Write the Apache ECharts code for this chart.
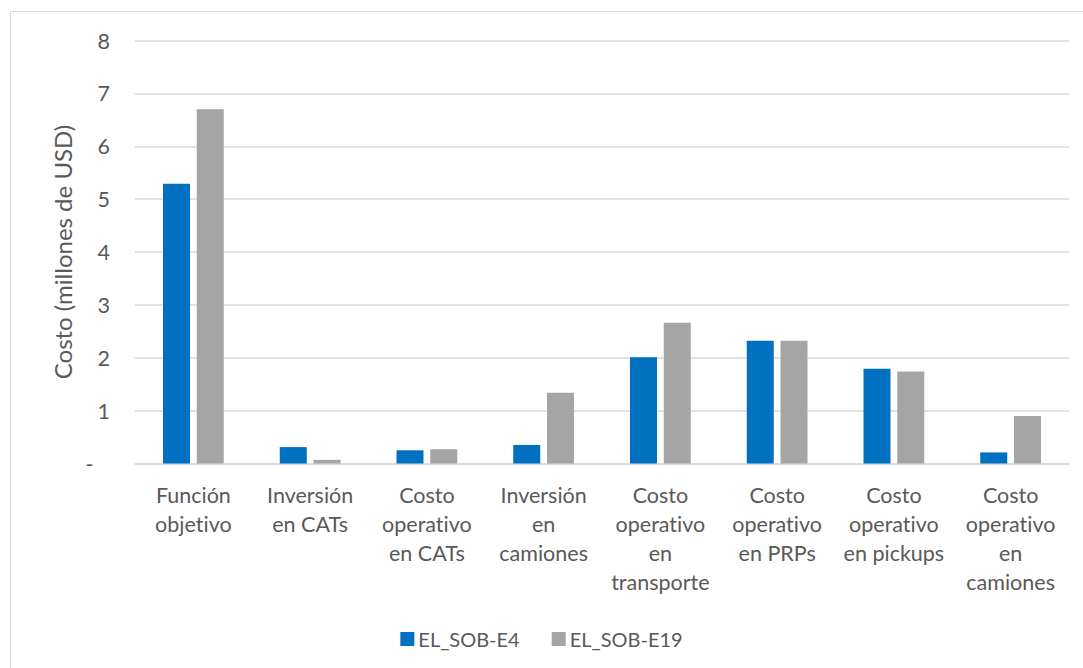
<!DOCTYPE html>
<html>
<head>
<meta charset="utf-8">
<script src="https://cdn.jsdelivr.net/npm/echarts@6/dist/echarts.min.js"></script>
<style>
html,body{margin:0;padding:0;background:#fff;}
#chart{width:1083px;height:668px;font-variant-ligatures:none;font-feature-settings:"liga" 0, "clig" 0;}
#chart text{font-variant-ligatures:none;font-feature-settings:"liga" 0, "clig" 0;}
</style>
</head>
<body>
<div id="chart"></div>
<script>
const categories = [
  "Función\nobjetivo",
  "Inversión\nen CATs",
  "Costo\noperativo\nen CATs",
  "Inversión\nen\ncamiones",
  "Costo\noperativo\nen\ntransporte",
  "Costo\noperativo\nen PRPs",
  "Costo\noperativo\nen pickups",
  "Costo\noperativo\nen\ncamiones"
];
const seriesNames = ["EL_SOB-E4", "EL_SOB-E19"];
const valuesE4 = [5.29, 0.31, 0.25, 0.35, 2.01, 2.32, 1.79, 0.21];
const valuesE19 = [6.70, 0.07, 0.27, 1.34, 2.66, 2.32, 1.74, 0.90];
const yTicks = { min: 0, max: 8, interval: 1 };
const yTitle = "Costo (millones de USD)";

const FONT = "Lato";
const TXT = "#595959";
const chart = echarts.init(document.getElementById('chart'), null, {renderer: 'svg'});
chart.setOption({
  animation: false,
  backgroundColor: '#ffffff',
  textStyle: { fontFamily: FONT },
  graphic: [{
    type: 'rect', silent: true,
    shape: { x: 10.5, y: 11.5, width: 1200, height: 800 },
    style: { fill: 'none', stroke: '#d9d9d9', lineWidth: 1 }
  }],
  grid: { left: 135, right: 14, top: 40.5, bottom: 204.5, containLabel: false },
  legend: {
    data: seriesNames,
    bottom: 14,
    left: 'center',
    itemWidth: 14, itemHeight: 14,
    itemGap: 32,
    icon: 'rect',
    textStyle: { color: TXT, fontSize: 20, fontFamily: FONT, padding: [0,0,0,-1] }
  },
  xAxis: {
    type: 'category',
    data: categories,
    axisTick: { show: false },
    axisLine: { lineStyle: { color: '#d9d9d9', width: 1.5 } },
    axisLabel: {
      color: TXT, fontSize: 21.5, fontFamily: FONT, lineHeight: 29,
      margin: 17, interval: 0, align: 'center'
    }
  },
  yAxis: {
    type: 'value',
    min: yTicks.min, max: yTicks.max, interval: yTicks.interval,
    name: yTitle,
    nameLocation: 'middle',
    nameGap: 58,
    nameTextStyle: { color: TXT, fontSize: 24, fontFamily: FONT },
    axisLine: { show: false },
    axisTick: { show: false },
    splitLine: { lineStyle: { color: '#d9d9d9', width: 1.5 } },
    axisLabel: {
      color: TXT, fontSize: 21.5, fontFamily: FONT, margin: 25,
      formatter: function (v) { return v === 0 ? '-   ' : String(v); }
    }
  },
  series: [
    { name: seriesNames[0], type: 'bar', data: valuesE4, barWidth: 27, barGap: '25%',
      itemStyle: { color: '#0070C0' } },
    { name: seriesNames[1], type: 'bar', data: valuesE19, barWidth: 27, barGap: '25%',
      itemStyle: { color: '#A5A5A5' } }
  ]
});
</script>
</body>
</html>
